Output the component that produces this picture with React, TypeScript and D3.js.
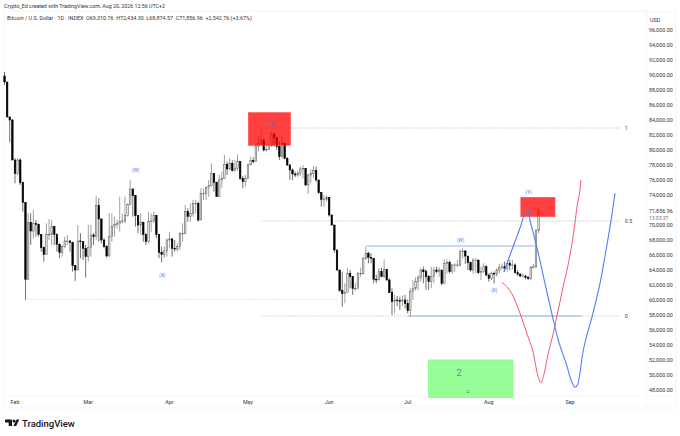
import React from "react";
import * as d3 from "d3";

// Prices are in thousands of USD. Bars are daily; day 0 = 1 Feb 2026.
const firstOpen = 89.87;
const closes = [
89.07,84.4,84.0,78.67,
76.89,78.67,75.65,73.03,62.76,70.36,69.2,70.22,70.09,68.76,66.98,66.09,68.76,68.76,69.78,68.76,67.43,66.36,67.12,67.87,67.87,67.65,64.58,64.0,67.87,67.78,66.89,65.78,66.98,68.67,68.45,72.58,70.8,68.0,67.12,65.87,68.45,69.78,70.09,70.2,70.45,70.54,71.25,72.76,74.8,73.91,71.25,70.0,70.36,68.76,67.78,70.45,70.54,71.25,68.76,66.36,66.09,66.54,68.0,68.14,66.89,66.8,67.12,68.89,68.89,71.78,71.12,71.56,72.89,72.89,70.67,74.23,74.23,74.98,75.25,76.89,75.69,73.78,76.0,76.23,78.09,77.47,
78.23,77.25,77.56,78.45,76.23,75.78,76.23,78.0,78.58,78.45,80.45,80.89,81.34,80.0,80.09,80.54,82.14,81.69,80.45,79.11,80.89,78.89,78.0,77.34,76.8,76.67,76.9,77.47,77.56,75.34,76.67,76.89,77.25,76.0,74.31,73.43,73.43,73.69,71.34,70.0,66.67,
64.0,61.25,60.89,60.98,63.56,63.11,61.56,61.56,63.56,63.56,65.56,66.23,65.69,65.56,62.76,62.67,63.78,63.11,64.09,62.67,60.98,59.78,60.0,59.91,59.87,60.0,59.56,58.58,61.11,61.56,62.45,63.03,64.0,63.78,63.11,62.45,63.11,64.0,63.78,64.0,62.23,64.89,64.98,63.78,
64.67,64.67,64.67,66.44,66.53,65.86,64.98,64.0,65.33,65.33,63.64,63.78,64.44,63.33,62.89,63.55,63.46,64.0,64.35,64.44,64.22,64.89,64.66,64.66,63.64,63.46,63.2,63.2,63.02,62.89,64.35,64.44,69.31,71.857,
];
const highs = [
90.4,89.07,84.53,84.13,
78.89,78.89,78.89,75.78,72.89,71.56,71.56,72.0,70.67,70.22,68.76,67.12,70.22,70.8,70.67,69.78,68.89,67.56,67.34,68.45,68.67,68.0,67.78,64.67,70.0,68.89,67.78,67.34,70.0,70.0,68.89,73.91,73.56,70.89,68.23,67.34,71.56,71.56,71.12,70.7,73.78,71.56,73.78,72.89,76.0,74.89,74.0,71.34,71.56,70.45,68.89,71.78,71.56,71.78,71.34,68.67,67.12,67.12,68.23,69.11,68.23,68.0,67.56,69.03,70.22,72.67,72.23,72.89,73.34,73.34,73.11,74.89,74.89,75.12,76.0,78.23,76.89,75.78,76.67,77.12,79.34,78.45,
78.89,78.67,78.67,79.43,77.34,76.54,76.67,78.23,79.11,79.03,80.89,81.78,82.67,81.43,80.89,80.89,82.45,82.23,81.69,81.11,81.78,80.98,79.03,78.14,77.56,77.12,77.2,77.78,78.0,77.56,76.8,77.43,77.87,77.78,76.0,74.31,74.0,74.0,73.69,71.34,70.0,
66.67,64.0,63.78,62.23,64.23,64.0,63.11,62.23,63.78,64.31,65.69,67.11,66.45,66.23,65.56,63.34,64.23,64.31,65.43,64.0,62.89,61.56,60.67,60.54,60.45,60.6,60.67,60.09,61.56,62.67,63.03,63.34,64.23,64.45,64.09,63.34,64.45,64.45,64.45,64.36,64.0,65.43,65.43,65.25,
64.8,64.89,65.33,66.75,66.89,66.67,65.86,65.11,65.55,65.55,65.33,64.44,64.89,64.66,63.55,63.78,63.78,64.22,64.8,64.89,65.11,65.11,65.33,65.33,64.89,64.0,63.55,63.55,63.33,63.2,64.53,64.8,69.4,72.434,
];
const lows = [
88.67,84.4,81.0,78.67,
75.56,76.67,75.34,71.78,60.0,62.67,67.34,68.22,68.45,68.45,66.45,65.11,66.0,68.0,67.34,67.34,66.45,65.56,65.78,66.89,67.34,66.45,63.78,62.54,64.0,65.56,65.34,62.98,65.11,65.78,67.34,68.0,67.78,67.56,66.89,65.65,65.78,67.78,68.45,69.5,69.11,70.22,70.22,71.12,72.67,71.12,69.78,68.89,68.67,67.78,67.34,67.56,69.11,70.22,68.23,65.56,65.03,65.56,65.78,66.89,65.78,66.45,66.45,66.67,67.78,68.76,70.45,70.45,71.12,71.56,70.45,70.67,73.34,73.34,73.78,75.12,74.45,73.78,73.78,74.98,76.23,76.67,
77.34,77.12,77.12,77.25,76.0,74.89,75.11,76.23,78.0,78.23,78.45,79.78,80.67,79.78,79.78,80.0,80.45,80.45,80.0,78.67,78.89,78.76,77.87,76.0,76.0,76.36,76.4,76.54,76.23,75.2,74.14,75.56,76.23,75.78,74.14,72.45,72.45,73.11,71.11,69.9,66.3,
63.91,61.11,59.11,59.56,60.98,61.56,60.67,61.25,61.56,63.11,63.34,65.34,64.89,64.89,62.23,62.23,62.67,63.03,62.89,62.58,60.89,58.0,58.23,59.2,58.67,59.2,58.89,58.23,57.78,60.0,61.25,61.34,62.45,62.23,61.34,61.34,61.56,62.23,63.56,63.11,62.0,62.23,63.56,63.56,
63.55,63.78,64.44,64.44,65.55,64.8,64.0,63.78,63.46,63.55,63.46,62.66,63.55,63.2,62.44,62.66,62.22,63.11,63.55,64.0,63.78,63.78,64.0,64.09,63.55,63.2,63.02,63.02,62.75,62.66,62.66,64.22,64.22,68.875,
];
const lastBarDay = 200;

const monthLabels = ["Feb", "Mar", "Apr", "May", "Jun", "Jul", "Aug", "Sep"];
const monthDays = [0, 28, 59, 89, 120, 150, 181, 212];
const priceTicks = [96,94,92,90,88,86,84,82,80,78,76,74,70,68,66,64,62,60,58,56,54,52,50,48];

const blueCurve: [number, number][] = [
[186.7,63.73],[189.1,66.0],[192.9,69.6],[195.6,72.13],[197.1,70.07],[199.3,67.11],[202.4,62.27],[205,58.27],[207.5,54.67],[210.7,51.33],[212.4,49.33],[213.9,48.36],[215,48.8],[216.9,52.93],[220.8,58.27],[223.5,62.27],[226,67.11],[227.9,71.11],[229.2,74.23],
];
const redCurve: [number, number][] = [
[185.9,62.36],[189.7,60.89],[192.9,58.23],[195.5,55.56],[198,52.89],[199.5,50.23],[200.9,48.97],[201.8,49.77],[203.7,52.89],[205.6,55.56],[207.5,58.67],[209.4,61.77],[212,66.0],[213.9,70.23],[214.6,72.23],[215.8,74.67],[216.2,76.0],
];
const fibLevels: [string, number][] = [["1", 82.93], ["0.5", 70.53], ["0", 57.87]];
const fibStartDay = 94.3;
const fibEndDay = 231;
const waveLabels: [string, number, number][] = [
["(W)", 46.1, 77.2],["(X)", 56.3, 63.24],["(Y)", 98.2, 83.3],["(W)", 170.2, 67.9],["(X)", 183.1, 61.2],["(Y)", 196.2, 74.3],
];
const redZones: [number, number, number, number][] = [[89.1, 105.3, 85.0, 80.6],[193.2, 206.3, 73.7, 71.1]];
const greenZone: [number, number, number, number] = [158, 190.2, 52, 47];
const swingLow: [number, number, number] = [5, 123.4, 60.07];
const blueLines: [number, number, number][] = [[134.1, 199.3, 67.2],[150, 216.2, 57.87]];

const sans = "Roboto, 'Liberation Sans', sans-serif";

export default function App() {
  const x = d3.scaleLinear().domain([0, 212]).range([15, 570]);
  const y = d3.scaleLinear().domain([96, 48]).range([30, 390]);
  const line = d3.line<[number, number]>().x((d) => x(d[0])).y((d) => y(d[1])).curve(d3.curveMonotoneX);
  const fmt = d3.format(",.2f");
  const n = closes.length;
  const bw = 1.5;
  return (
    <>
      <style>{"body{margin:0;background:#fff}"}</style>
      <svg width={680} height={436} style={{ display: "block", fontFamily: sans }}>
        <rect width={680} height={436} fill="#fff" />
        <rect x={4} y={11} width={672} height={397} fill="#fff" stroke="#f2f3f5" strokeWidth={1} />
        <line x1={646} x2={646} y1={11} y2={408} stroke="#f6f6f7" />
        <line x1={4} x2={676} y1={396} y2={396} stroke="#f8f8f9" />

        <text x={4} y={8} fontSize={5.3} fill="#333">Crypto_Ed created with TradingView.com, Aug 20, 2026 12:56 UTC+2</text>
        <text x={7} y={20} fontSize={5.4} fill="#333" style={{ whiteSpace: "pre" }}>Bitcoin / U.S. Dollar · 1D · INDEX  O69,310.76  H72,434.30  L68,874.57  C71,856.96  +2,542.76 (+3.67%)</text>

        {/* level lines */}
        {fibLevels.map(([label, p]) => (
          <g key={label}>
            <line x1={x(fibStartDay)} x2={x(fibEndDay)} y1={y(p)} y2={y(p)} stroke="#a8a8a8" strokeWidth={0.7} strokeDasharray="1 1.2" />
            <text x={x(fibEndDay) + 5} y={y(p) + 2} fontSize={5.4} fill="#444">{label}</text>
          </g>
        ))}
        <line x1={x(swingLow[0])} x2={x(swingLow[1])} y1={y(swingLow[2])} y2={y(swingLow[2])} stroke="#b6cbf4" strokeWidth={0.7} strokeDasharray="1 1.2" />

        {/* candles */}
        {closes.map((c, i) => {
          const day = lastBarDay - (n - 1 - i);
          const o = i === 0 ? firstOpen : closes[i - 1];
          const up = c >= o;
          const cx = x(day);
          const top = y(Math.max(o, c));
          const h = Math.max(0.6, Math.abs(y(o) - y(c)));
          return (
            <g key={i}>
              <line x1={cx} x2={cx} y1={y(highs[i])} y2={y(lows[i])} stroke={up ? "#777" : "#333"} strokeWidth={0.7} />
              <rect x={cx - bw / 2} y={top} width={bw} height={h} fill={up ? "#eee" : "#000"} stroke={up ? "#666" : "#000"} strokeWidth={0.6} />
            </g>
          );
        })}

        {/* zones */}
        {redZones.map(([d0, d1, p0, p1], i) => (
          <rect key={i} x={x(d0)} y={y(p0)} width={x(d1) - x(d0)} height={y(p1) - y(p0)} fill="#ff0000" fillOpacity={0.75} stroke="#ff5555" strokeWidth={0.5} />
        ))}
        <rect x={x(greenZone[0])} y={y(greenZone[2])} width={x(greenZone[1]) - x(greenZone[0])} height={y(greenZone[3]) - y(greenZone[2])} fill="#98ff98" stroke="#7dfa7d" strokeWidth={0.8} />
        <text x={459} y={375.5} fontSize={9.5} textAnchor="middle" fill="#2f9e9e">2</text>
        <text x={468} y={393} fontSize={5.5} textAnchor="middle" fill="#1f7a3a">c</text>

        {/* blue levels */}
        {blueLines.map(([d0, d1, p], i) => (
          <line key={i} x1={x(d0)} x2={x(d1)} y1={y(p)} y2={y(p)} stroke="#8fb0f2" strokeWidth={1} />
        ))}

        {/* projections */}
        <path d={line(redCurve) ?? ""} fill="none" stroke="#f0566a" strokeWidth={1} />
        <path d={line(blueCurve) ?? ""} fill="none" stroke="#4f7ff0" strokeWidth={1.1} />

        {waveLabels.map(([t, d, p], i) => (
          <text key={i} x={x(d)} y={y(p)} fontSize={4.6} textAnchor="middle" dominantBaseline="middle" fill="#3f6fe8">{t}</text>
        ))}

        {/* price axis */}
        <rect x={647} y={13} width={27} height={12} fill="#fff" stroke="#f1f1f3" strokeWidth={0.5} />
        <text x={650} y={21.5} fontSize={5.4} fill="#333">USD</text>
        {priceTicks.map((p) => (
          <text key={p} x={649} y={y(p) + 2} fontSize={5.4} fill="#333">{fmt(p * 1000)}</text>
        ))}
        <text x={649} y={y(71.857) + 2} fontSize={5.4} fill="#333">{fmt(71856.96)}</text>
        <text x={649} y={y(71.857) + 8.5} fontSize={5} fill="#777">13:03:37</text>

        {/* time axis */}
        {monthLabels.map((m, i) => (
          <text key={m} x={x(monthDays[i])} y={403.5} fontSize={5.4} textAnchor="middle" fill="#333">{m}</text>
        ))}

        {/* logo */}
        <g fill="#131722">
          <path d="M5 419.5h7v6.5h-3.3v-3.4H5z" />
          <circle cx={14} cy={421} r={1.5} />
          <path d="M16.5 419.5h2.7l-3 6.5h-2.8z" />
        </g>
        <text x={22} y={426.5} fontSize={9.5} fontWeight={500} fill="#131722">TradingView</text>
      </svg>
    </>
  );
}
